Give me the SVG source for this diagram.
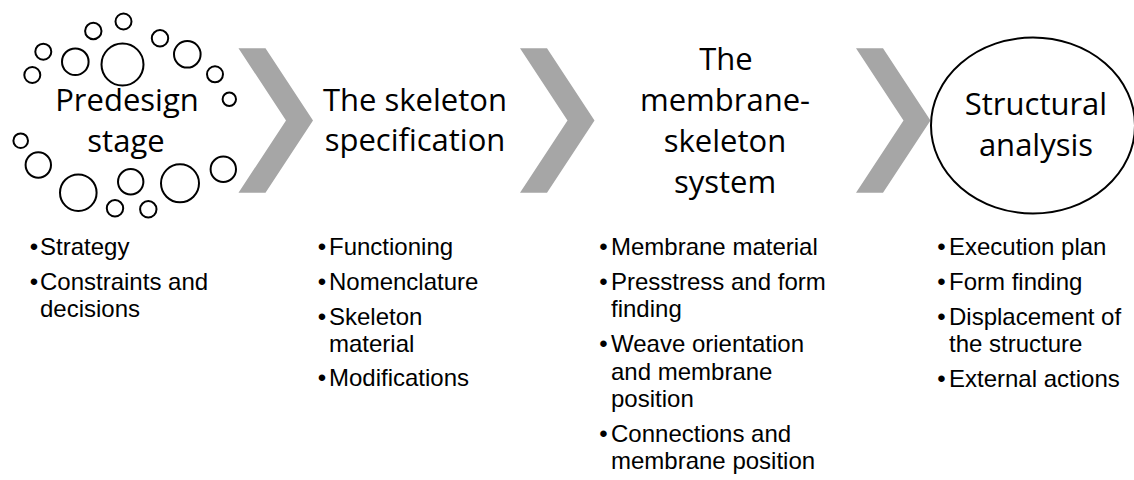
<svg xmlns="http://www.w3.org/2000/svg" width="1134" height="480" viewBox="0 0 1134 480">
  <style>
    .bg { fill: #ffffff; }
    .title { font-family: "Open Sans", "Liberation Sans", sans-serif; font-size: 31px; fill: #000000; text-anchor: middle; }
    .item { font-family: "Liberation Sans", Arial, sans-serif; font-size: 24px; fill: #000000; }
    .bubble { fill: none; stroke: #000000; stroke-width: 2; }
    .ring { fill: none; stroke: #000000; stroke-width: 2; }
    .chevron { fill: #a6a6a6; stroke: none; }
  </style>
  <defs>
    <!-- step arrow between stages -->
    <path id="chev" d="M0,48.3 L27,48.3 L74.5,120.5 L27,192.7 L0,192.7 L47.5,120.5 Z"/>
  </defs>

  <rect class="bg" x="0" y="0" width="1134" height="480"/>

  <!-- arrows between stages -->
  <g id="connectors">
    <use href="#chev" class="chevron" x="238.5"/>
    <use href="#chev" class="chevron" x="520"/>
    <use href="#chev" class="chevron" x="856"/>
  </g>

  <!-- stage 1: cloud of bubbles around the title -->
  <g id="predesign">
    <g class="bubble">
      <circle cx="123.5" cy="21.5" r="8"/>
      <circle cx="93.3" cy="31" r="8.2"/>
      <circle cx="160" cy="38.3" r="8.2"/>
      <circle cx="43.3" cy="51.7" r="8"/>
      <circle cx="32.3" cy="75" r="8"/>
      <circle cx="75.3" cy="61.7" r="13.3"/>
      <circle cx="122.5" cy="64.5" r="21"/>
      <circle cx="187.3" cy="54.3" r="13.3"/>
      <circle cx="215" cy="74.3" r="8"/>
      <circle cx="229.3" cy="99.3" r="6.7"/>
      <circle cx="20.7" cy="140.7" r="7.3"/>
      <circle cx="38.3" cy="165" r="12.7"/>
      <circle cx="78.3" cy="192.7" r="18.3"/>
      <circle cx="130.7" cy="181.7" r="12.7"/>
      <circle cx="180" cy="183.3" r="19"/>
      <circle cx="223.3" cy="169.3" r="12.7"/>
      <circle cx="115" cy="208.3" r="8.2"/>
      <circle cx="148.3" cy="209.3" r="8.2"/>
    </g>
    <text class="title" x="127" y="111">Predesign</text>
    <text class="title" x="126" y="152">stage</text>
    <text class="item" y="255"><tspan x="29.8">•</tspan><tspan x="40">Strategy</tspan></text>
    <text class="item" y="290"><tspan x="29.8">•</tspan><tspan x="40">Constraints and</tspan><tspan x="40" dy="27">decisions</tspan></text>
  </g>

  <!-- stage 2 -->
  <g id="skeleton-spec">
    <text class="title" x="415" y="111">The skeleton</text>
    <text class="title" x="415" y="151">specification</text>
    <text class="item" y="255"><tspan x="317.8">•</tspan><tspan x="329">Functioning</tspan></text>
    <text class="item" y="290"><tspan x="317.8">•</tspan><tspan x="329">Nomenclature</tspan></text>
    <text class="item" y="324.5"><tspan x="317.8">•</tspan><tspan x="329">Skeleton</tspan><tspan x="329" dy="27.2">material</tspan></text>
    <text class="item" y="386"><tspan x="317.8">•</tspan><tspan x="329">Modifications</tspan></text>
  </g>

  <!-- stage 3 -->
  <g id="membrane-system">
    <text class="title" x="726" y="70">The</text>
    <text class="title" x="725" y="111">membrane-</text>
    <text class="title" x="725" y="152">skeleton</text>
    <text class="title" x="725" y="193">system</text>
    <text class="item" y="255"><tspan x="599.3">•</tspan><tspan x="611">Membrane material</tspan></text>
    <text class="item" y="290"><tspan x="599.3">•</tspan><tspan x="611">Presstress and form</tspan><tspan x="611" dy="27.3">finding</tspan></text>
    <text class="item" y="352.3"><tspan x="599.3">•</tspan><tspan x="611">Weave orientation</tspan><tspan x="611" dy="27.3">and membrane</tspan><tspan x="611" dy="27.3">position</tspan></text>
    <text class="item" y="441.9"><tspan x="599.3">•</tspan><tspan x="611">Connections and</tspan><tspan x="611" dy="27.3">membrane position</tspan></text>
  </g>

  <!-- stage 4: circled title -->
  <g id="structural-analysis">
    <ellipse class="ring" cx="1033" cy="125.5" rx="102" ry="88"/>
    <text class="title" x="1036" y="115">Structural</text>
    <text class="title" x="1036" y="156">analysis</text>
    <text class="item" y="255"><tspan x="937.3">•</tspan><tspan x="949">Execution plan</tspan></text>
    <text class="item" y="290"><tspan x="937.3">•</tspan><tspan x="949">Form finding</tspan></text>
    <text class="item" y="325"><tspan x="937.3">•</tspan><tspan x="949">Displacement of</tspan><tspan x="949" dy="27">the structure</tspan></text>
    <text class="item" y="387"><tspan x="937.3">•</tspan><tspan x="949">External actions</tspan></text>
  </g>
</svg>
